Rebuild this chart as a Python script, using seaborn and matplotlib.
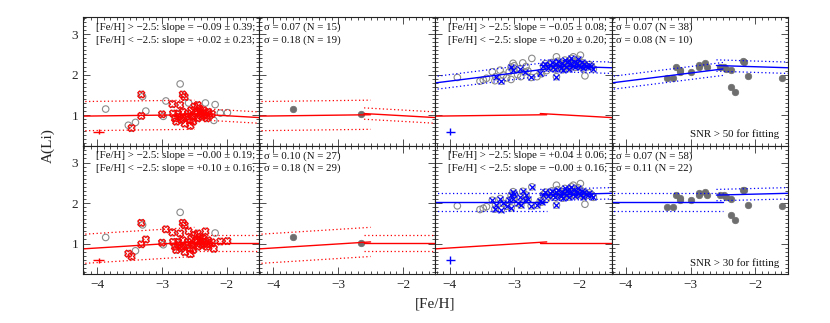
import numpy as np
import matplotlib.pyplot as plt
import seaborn as sns
from matplotlib.ticker import MultipleLocator

sns.set_style("ticks")
plt.rcParams['font.family'] = ['Liberation Serif', 'DejaVu Serif']

#%% Data
# red sample (columns 1-2): [Fe/H], A(Li), S/N
red_feh = [-3.87, -2.72, -3.41, -2.18, -3.30, -2.98,
           -3.32, -3.32, -3.47, -3.00, -2.84, -2.72, -2.68, -2.65, -2.56, -2.23,
           -2.83, -2.80, -2.78, -2.74, -2.70, -2.68, -2.65, -2.63, -2.60, -2.57,
           -2.55, -2.52, -2.50, -2.48, -2.46, -2.45, -2.42, -2.41, -2.40, -2.38,
           -2.36, -2.34, -2.33, -2.31, -2.29, -2.27, -2.68, -2.75, -2.52, -2.45,
           -3.52, -3.25, -2.94, -2.59, -2.33, -2.10, -1.99, -2.20]
red_ali = [1.15, 1.77, 0.82, 1.26, 1.46, 0.97,
           1.51, 0.98, 0.68, 1.02, 1.27, 1.25, 1.51, 1.45, 0.74, 1.03,
           1.04, 0.92, 0.84, 0.96, 0.88, 1.08, 0.79, 0.96, 1.04, 0.88,
           1.12, 0.96, 1.21, 1.04, 1.08, 0.92, 1.16, 1.00, 1.06, 0.96,
           1.12, 1.00, 1.04, 0.92, 1.08, 0.98, 0.92, 1.04, 0.84, 1.25,
           0.75, 1.10, 1.35, 1.30, 1.30, 1.05, 1.06, 0.87]
red_snr = [20, 20, 20, 20, 20, 20,
           60, 60, 60, 60, 60, 60, 60, 60, 60, 60,
           80, 80, 80, 80, 80, 80, 80, 80, 80, 80,
           80, 80, 80, 80, 80, 80, 80, 80, 80, 80,
           80, 80, 80, 80, 80, 80, 80, 80, 80, 80,
           40, 40, 40, 40, 40, 40, 40, 40]

# blue sample (columns 3-4)
blue_feh = [-3.88, -3.53, -3.48, -3.43, -1.91, -2.35, -2.09, -1.98, -2.50,
            -3.34, -3.22, -3.17, -3.08, -3.02, -3.00, -2.87, -2.79, -2.73,
            -3.12, -3.05, -2.95, -2.90, -2.82, -2.65, -2.58, -3.30,
            -3.20, -3.29, -3.05, -3.02, -2.91, -2.84, -2.74, -2.60, -2.35, -1.78,
            -2.55, -2.52, -2.48, -2.45, -2.42, -2.40, -2.37, -2.35, -2.33, -2.30,
            -2.28, -2.26, -2.24, -2.22, -2.20, -2.18, -2.16, -2.14, -2.12, -2.10,
            -2.08, -2.06, -2.04, -2.02, -2.00, -1.98, -1.96, -1.94, -1.92, -1.90,
            -1.87, -1.84, -1.81, -2.25, -2.15]
blue_ali = [1.93, 1.84, 1.87, 1.91, 1.97, 2.44, 2.44, 2.48, 2.10,
            2.07, 2.11, 1.99, 2.07, 2.28, 2.22, 2.29, 2.09, 2.40,
            1.92, 1.88, 2.00, 1.95, 2.20, 1.95, 2.02, 1.85,
            1.84, 1.95, 2.19, 2.11, 2.15, 2.07, 1.93, 2.05, 1.95, 2.14,
            2.21, 2.27, 2.17, 2.24, 2.30, 2.19, 2.14, 2.26, 2.33, 2.21,
            2.17, 2.28, 2.24, 2.36, 2.20, 2.30, 2.15, 2.26, 2.40, 2.22,
            2.32, 2.18, 2.28, 2.38, 2.24, 2.20, 2.30, 2.16, 2.26, 2.22,
            2.19, 2.25, 2.21, 2.12, 2.34]
blue_snr = [20] * 9 + [40] * 17 + [80] * 45

# comparison stars (filled grey)
cmp_red_feh = [-3.69, -2.65]
cmp_red_ali = [1.15, 1.02]
cmp_blue_feh = [-3.36, -3.27, -3.22, -3.17, -3.16, -3.00, -2.87, -2.87, -2.78, -2.74,
                -2.55, -2.49, -2.45, -2.37, -2.37, -2.31, -2.19, -2.17, -2.11, -1.59]
cmp_blue_ali = [1.91, 1.91, 2.20, 2.12, 2.07, 2.07, 2.24, 2.20, 2.28, 2.20,
                2.20, 2.20, 2.15, 2.11, 1.70, 1.58, 2.33, 2.32, 1.96, 1.92]

snr_cut = [50, 30]

# fits, per row: [Fe/H] < -2.5 segment, [Fe/H] > -2.5 segment
red_slope = [[0.02, -0.09], [0.10, 0.00]]
red_zero = [[1.01, 1.03], [1.04, 1.01]]     # value at [Fe/H] = -2.5
red_sig = [[0.18, 0.07], [0.18, 0.10]]
blue_slope = [[0.20, -0.05], [0.00, 0.04]]
blue_zero = [[2.14, 2.22], [2.02, 2.20]]
blue_sig = [[0.08, 0.07], [0.11, 0.07]]
seg_x = [(-4.3, -2.5), (-2.6, -1.4)]

slope_txt = [[("\u22120.09 \u00b1 0.39", "+0.02 \u00b1 0.23"), ("\u22120.05 \u00b1 0.08", "+0.20 \u00b1 0.20")],
             [("\u22120.00 \u00b1 0.19", "+0.10 \u00b1 0.16"), ("+0.04 \u00b1 0.06", "\u22120.00 \u00b1 0.16")]]
sigma_txt = [[("0.07 (N = 15)", "0.18 (N = 19)"), ("0.07 (N = 38)", "0.08 (N = 10)")],
             [("0.10 (N = 27)", "0.18 (N = 29)"), ("0.07 (N = 58)", "0.11 (N = 22)")]]
snr_txt = ["SNR > 50 for fitting", "SNR > 30 for fitting"]

FS = 7.8


def draw_fit(ax, slope, zero, sig, color, dotted=True):
    for k in range(2):
        xs = np.array(seg_x[k])
        ys = zero[k] + slope[k] * (xs + 2.5)
        ax.plot(xs, ys, color=color, lw=1.0)
        if dotted:
            ax.plot(xs, ys + 2 * sig[k], color=color, lw=0.9, ls=(0, (1, 2)))
            ax.plot(xs, ys - 2 * sig[k], color=color, lw=0.9, ls=(0, (1, 2)))


#%% Figure
fig = plt.figure(figsize=(8.3, 3.23), dpi=100)
gs = fig.add_gridspec(2, 4, left=0.1, right=0.949, bottom=0.152, top=0.947,
                      wspace=0, hspace=0)

red_feh = np.array(red_feh); red_ali = np.array(red_ali); red_snr = np.array(red_snr)
blue_feh = np.array(blue_feh); blue_ali = np.array(blue_ali); blue_snr = np.array(blue_snr)

for r in range(2):
    axs = [fig.add_subplot(gs[r, c]) for c in range(4)]
    cut = snr_cut[r]

    # column 1: red sample
    ax = axs[0]
    sns.scatterplot(x=red_feh, y=red_ali, ax=ax, marker='o', s=22,
                    facecolors='none', edgecolor='#8a8a8a', linewidth=0.8)
    m = red_snr > cut
    sns.scatterplot(x=red_feh[m], y=red_ali[m], ax=ax, marker='X', s=26,
                    facecolors='none', edgecolor='red', linewidth=0.8)
    draw_fit(ax, red_slope[r], red_zero[r], red_sig[r], 'red')
    ax.errorbar([-3.98], [0.59], xerr=[0.09], yerr=[0.06], fmt='none',
                ecolor='red', elinewidth=1.0, capsize=0)

    # column 2: red comparison
    ax = axs[1]
    sns.scatterplot(x=cmp_red_feh, y=cmp_red_ali, ax=ax, s=22, color='#6e6e6e',
                    edgecolor='#6e6e6e', linewidth=0.5)
    draw_fit(ax, red_slope[r], red_zero[r], red_sig[r], 'red')

    # column 3: blue sample
    ax = axs[2]
    draw_fit(ax, red_slope[r], red_zero[r], red_sig[r], 'red', dotted=False)
    sns.scatterplot(x=blue_feh, y=blue_ali, ax=ax, marker='o', s=22,
                    facecolors='none', edgecolor='#8a8a8a', linewidth=0.8)
    m = blue_snr > cut
    sns.scatterplot(x=blue_feh[m], y=blue_ali[m], ax=ax, marker='x', s=18,
                    color='blue', linewidth=0.9)
    draw_fit(ax, blue_slope[r], blue_zero[r], blue_sig[r], 'blue')
    ax.errorbar([-3.99], [0.59], xerr=[0.07], yerr=[0.09], fmt='none',
                ecolor='blue', elinewidth=1.0, capsize=0)

    # column 4: blue comparison
    ax = axs[3]
    sns.scatterplot(x=cmp_blue_feh, y=cmp_blue_ali, ax=ax, s=22, color='#6e6e6e',
                    edgecolor='#6e6e6e', linewidth=0.5)
    draw_fit(ax, blue_slope[r], blue_zero[r], blue_sig[r], 'blue')
    ax.text(0.95, 0.085, snr_txt[r], transform=ax.transAxes, ha='right',
            va='center', fontsize=FS, color='#111111')

    for g in range(2):
        axl, axr = axs[2 * g], axs[2 * g + 1]
        s1, s2 = slope_txt[r][g]
        axl.text(0.975, 0.92, "[Fe/H] > \u22122.5: slope = " + s1 + ";",
                 transform=axl.transAxes, ha='right', va='center', fontsize=FS, color='#111111')
        axl.text(0.975, 0.82, "[Fe/H] < \u22122.5: slope = " + s2 + ";",
                 transform=axl.transAxes, ha='right', va='center', fontsize=FS, color='#111111')
        q1, q2 = sigma_txt[r][g]
        axr.text(0.025, 0.92, "\u03c3 = " + q1, transform=axr.transAxes,
                 ha='left', va='center', fontsize=FS, color='#111111')
        axr.text(0.025, 0.82, "\u03c3 = " + q2, transform=axr.transAxes,
                 ha='left', va='center', fontsize=FS, color='#111111')

    for c, ax in enumerate(axs):
        ax.set_xlim(-4.22, -1.5)
        ax.set_ylim(0.25, 3.42)
        ax.xaxis.set_major_locator(MultipleLocator(1))
        ax.xaxis.set_minor_locator(MultipleLocator(0.1))
        ax.yaxis.set_major_locator(MultipleLocator(1))
        ax.yaxis.set_minor_locator(MultipleLocator(0.1))
        ax.tick_params(which='both', direction='in', top=True, right=True,
                       labelsize=9.5, width=0.6, color='#333333')
        ax.tick_params(which='major', length=5)
        ax.tick_params(which='minor', length=2.5)
        for sp in ax.spines.values():
            sp.set_linewidth(0.8)
            sp.set_color('#222222')
        if c > 0:
            ax.set_yticklabels([])
        if r == 0:
            ax.set_xticklabels([])

fig.text(0.524, 0.06, "[Fe/H]", ha='center', va='center', fontsize=11)
fig.text(0.058, 0.55, "A(Li)", ha='center', va='center', rotation=90, fontsize=11)

fig.savefig("out.png", dpi=100)
